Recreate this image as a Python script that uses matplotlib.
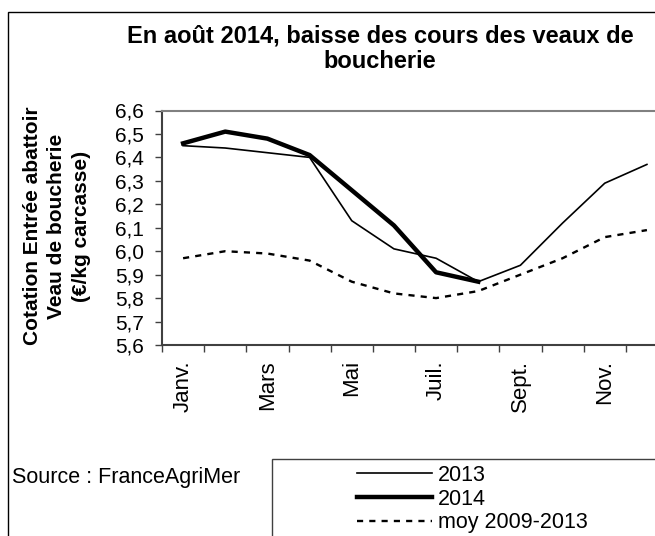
import numpy as np
import matplotlib
matplotlib.use('Agg')
import matplotlib.pyplot as plt
from matplotlib.patches import Rectangle

plt.rcParams['font.family'] = ['Liberation Sans', 'DejaVu Sans']

# data
mois = ['Janv.', 'Févr.', 'Mars', 'Avr.', 'Mai', 'Juin', 'Juil.', 'Août', 'Sept.', 'Oct.', 'Nov.', 'Déc.']
v2013 = [6.45, 6.44, 6.42, 6.40, 6.13, 6.01, 5.97, 5.87, 5.94, 6.12, 6.29, 6.37]
v2014 = [6.46, 6.51, 6.48, 6.41, 6.26, 6.11, 5.91, 5.87]
moy = [5.97, 6.00, 5.99, 5.96, 5.87, 5.82, 5.80, 5.83, 5.90, 5.97, 6.06, 6.09]
yticks = [5.6, 5.7, 5.8, 5.9, 6.0, 6.1, 6.2, 6.3, 6.4, 6.5, 6.6]

W, H = 655, 536
fig = plt.figure(figsize=(W / 100, H / 100), dpi=100)
ax = fig.add_axes([162 / W, 1 - 345 / H, 506 / W, 234.5 / H])

x = np.arange(len(mois))
ax.plot(x, v2013, color='black', lw=1.2, label='2013')
ax.plot(x[:len(v2014)], v2014, color='black', lw=3.2, label='2014')
ax.plot(x, moy, color='black', lw=1.7, linestyle=(0, (2.6, 2.6)), label='moy 2009-2013')

ax.set_xlim(-0.5, 11.5)
ax.set_ylim(5.6, 6.6)
ax.set_yticks(yticks)
ax.set_yticklabels([('%.1f' % v).replace('.', ',') for v in yticks], fontsize=15)
ax.tick_params(axis='y', direction='out', length=5, width=1, pad=8, color='#404040')

# tick marks between months, labels every other month
ax.set_xticks(np.arange(-0.5, 12, 1))
ax.set_xticklabels([])
ax.tick_params(axis='x', which='major', direction='out', length=5, width=1, color='#404040')
ax.set_xticks(x[::2], minor=True)
ax.set_xticklabels(mois[::2], minor=True, rotation=90, fontsize=16)
ax.tick_params(axis='x', which='minor', length=0, pad=11)

ax.grid(False)
ax.spines['top'].set_color('#808080')
ax.spines['top'].set_linewidth(1.5)
ax.spines['right'].set_visible(False)
ax.spines['left'].set_color('#404040')
ax.spines['bottom'].set_color('#404040')
ax.spines['left'].set_linewidth(1.5)
ax.spines['bottom'].set_linewidth(1.5)

# title + y label
fig.text(380 / W, 1 - 49 / H, 'En août 2014, baisse des cours des veaux de\nboucherie',
         ha='center', va='center', fontsize=17, fontweight='bold', linespacing=1.13)
fig.text(57 / W, 1 - 226 / H, 'Cotation Entrée abattoir\nVeau de boucherie\n(€/kg carcasse)',
         ha='center', va='center', rotation=90, fontsize=15, fontweight='bold',
         linespacing=1.38, multialignment='center')
fig.text(12 / W, 1 - 477 / H, 'Source : FranceAgriMer', ha='left', va='center', fontsize=15.5)

# outer frame and legend box
fig.patches.append(Rectangle((8 / W, -0.5), 2, 0.5 + 1 - 12 / H, transform=fig.transFigure,
                             fill=False, edgecolor='black', lw=1))
fig.patches.append(Rectangle((272 / W, -0.5), 2, 0.5 + 1 - 459 / H, transform=fig.transFigure,
                             fill=False, edgecolor='#404040', lw=1))
fig.legend(loc='upper left', bbox_to_anchor=(357 / W, 1 - 465 / H), frameon=False,
           fontsize=15.5, handlelength=3.5, handletextpad=0.25, labelspacing=0.12,
           borderpad=0, borderaxespad=0)

fig.savefig('out.png', dpi=100)
